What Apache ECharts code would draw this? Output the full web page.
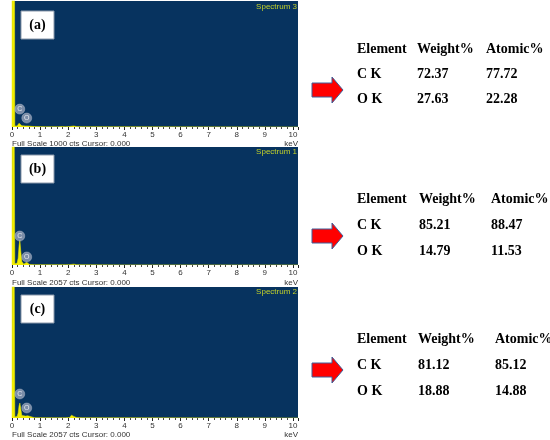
<!DOCTYPE html>
<html><head><meta charset="utf-8">
<script src="https://cdn.jsdelivr.net/npm/echarts@6/dist/echarts.min.js"></script>
<style>html,body{margin:0;padding:0;background:#fff;}#c{width:550px;height:440px;}</style>
</head><body><div id="c"></div>
<script>
// ---- data ----
const keV     = [0, 0.02, 0.03, 0.06, 0.09, 0.1, 0.12, 0.18, 0.22, 0.25, 0.28, 0.31, 0.35, 0.42, 0.48, 0.52, 0.56, 0.62, 0.8, 1.2, 1.65, 1.72, 1.78, 1.9, 2.05, 2.12, 2.2, 2.3, 2.5, 4, 10.18];
const countsA = [0, 9000, 9000, 9000, 9000, 8, 5, 8, 15, 30, 40, 28, 10, 6, 8, 12, 8, 4, 3, 2, 2, 10, 3, 2, 4, 12, 8, 3, 2, 1, 0];
const countsB = [0, 9000, 9000, 9000, 9000, 20, 10, 30, 120, 330, 435, 250, 60, 15, 25, 50, 30, 10, 5, 4, 4, 8, 4, 4, 6, 25, 15, 5, 3, 2, 0];
const countsC = [0, 9000, 9000, 9000, 9000, 15, 8, 25, 80, 190, 235, 150, 40, 12, 30, 60, 35, 10, 5, 3, 3, 6, 3, 3, 8, 45, 25, 6, 3, 2, 0];
const fullScale     = [1000, 2057, 2057];
const spectrumNames = ['Spectrum 3', 'Spectrum 1', 'Spectrum 2'];
const panelLabels   = ['(a)', '(b)', '(c)'];
const markerElements = ['C', 'O'];
const markerKeV      = [0.277, 0.525];
const markerCountsA  = [142, 71];
const markerCountsB  = [505, 140];
const markerCountsC  = [377, 157];
const tableHeaders = ['Element', 'Weight%', 'Atomic%'];
const tableElements = ['C K', 'O K'];
const weightA = ['72.37', '27.63'], atomicA = ['77.72', '22.28'];
const weightB = ['85.21', '14.79'], atomicB = ['88.47', '11.53'];
const weightC = ['81.12', '18.88'], atomicC = ['85.12', '14.88'];

// ---- layout ----
const panels = [
  {top: 1,   h: 126, counts: countsA, markers: markerCountsA, weight: weightA, atomic: atomicA,
   boxY: 11, titleY: 7, fsY: 144, cols: [357, 417, 486], rows: [49, 74, 99], arrowY: 90},
  {top: 147, h: 118, counts: countsB, markers: markerCountsB, weight: weightB, atomic: atomicB,
   boxY: 155, titleY: 152, fsY: 283, cols: [357, 419, 491], rows: [199, 225, 251], arrowY: 236},
  {top: 287, h: 131, counts: countsC, markers: markerCountsC, weight: weightC, atomic: atomicC,
   boxY: 295, titleY: 292, fsY: 435, cols: [357, 418, 495], rows: [339, 365, 391], arrowY: 370}
];
const L = 12, W = 286, BLUE = '#07335f', YEL = '#f2ee00';

const grids = [], xAxes = [], yAxes = [], series = [], graphics = [];
panels.forEach((p, i) => {
  grids.push({left: L, top: p.top, width: W, height: p.h, show: true, backgroundColor: BLUE, borderWidth: 0});
  xAxes.push({type: 'value', gridIndex: i, min: 0, max: 10.18, interval: 1,
    axisLine: {show: false}, splitLine: {show: false},
    axisTick: {show: true, length: 3, lineStyle: {color: '#222', width: 1}},
    minorTick: {show: true, splitNumber: 5, length: 2, lineStyle: {color: '#444'}},
    axisLabel: {fontSize: 8, color: '#333', margin: 4, fontFamily: 'Liberation Sans',
      formatter: v => (Math.abs(v - Math.round(v)) < 1e-6 ? String(Math.round(v)) : '')}});
  yAxes.push({type: 'value', gridIndex: i, min: 0, max: fullScale[i], show: false});
  series.push({type: 'line', xAxisIndex: i, yAxisIndex: i, clip: true, showSymbol: false, silent: true,
    data: keV.map((e, k) => [e, p.counts[k]]),
    lineStyle: {color: YEL, width: 0.5}, areaStyle: {color: YEL, opacity: 1}});
  series.push({type: 'scatter', xAxisIndex: i, yAxisIndex: i, symbolSize: 10, z: 5,
    data: markerKeV.map((e, k) => ({value: [e, p.markers[k]], name: markerElements[k]})),
    itemStyle: {color: 'rgba(160,170,190,0.95)', borderColor: '#b8c2d0', borderWidth: 0.5},
    label: {show: true, position: 'inside', formatter: '{b}', fontSize: 7, color: '#fff', fontFamily: 'Liberation Sans'}});
  graphics.push({type: 'text', x: 297, y: p.titleY, z: 10,
    style: {text: spectrumNames[i], fill: '#c3d12a', font: '8px "Liberation Sans"', textAlign: 'right', align: 'right', textVerticalAlign: 'middle', verticalAlign: 'middle'}});
  graphics.push({type: 'rect', shape: {x: 21, y: p.boxY, width: 33, height: 28}, z: 10,
    style: {fill: '#fff', stroke: '#8a98aa', lineWidth: 1}});
  graphics.push({type: 'text', x: 37.5, y: p.boxY + 14, z: 11,
    style: {text: panelLabels[i], fill: '#000', font: 'bold 14px "Liberation Serif"', textAlign: 'center', align: 'center', textVerticalAlign: 'middle', verticalAlign: 'middle'}});
  graphics.push({type: 'text', x: 12, y: p.fsY, z: 10,
    style: {text: 'Full Scale ' + fullScale[i] + ' cts Cursor: 0.000', fill: '#333', font: '8px "Liberation Sans"', textAlign: 'left', align: 'left', textVerticalAlign: 'middle', verticalAlign: 'middle'}});
  graphics.push({type: 'text', x: 298, y: p.fsY, z: 10,
    style: {text: 'keV', fill: '#333', font: '8px "Liberation Sans"', textAlign: 'right', align: 'right', textVerticalAlign: 'middle', verticalAlign: 'middle'}});
  const rowsText = [tableHeaders, [tableElements[0], p.weight[0], p.atomic[0]], [tableElements[1], p.weight[1], p.atomic[1]]];
  rowsText.forEach((r, ri) => r.forEach((t, ci) => {
    graphics.push({type: 'text', x: p.cols[ci], y: p.rows[ri], z: 10,
      style: {text: t, fill: '#000', font: 'bold 14px "Liberation Serif"', textAlign: 'left', align: 'left', textVerticalAlign: 'middle', verticalAlign: 'middle'}});
  }));
  const x0 = 312, cy = p.arrowY;
  graphics.push({type: 'polygon', z: 10,
    shape: {points: [[x0, cy - 7], [x0 + 20, cy - 7], [x0 + 20, cy - 13], [x0 + 31, cy], [x0 + 20, cy + 13], [x0 + 20, cy + 7], [x0, cy + 7]]},
    style: {fill: '#ff0000', stroke: '#3f5f9a', lineWidth: 1}});
});

const chart = echarts.init(document.getElementById('c'), null, {renderer: 'canvas'});
chart.setOption({animation: false, backgroundColor: '#fff', grid: grids, xAxis: xAxes, yAxis: yAxes, series: series, graphic: graphics});
</script></body></html>
